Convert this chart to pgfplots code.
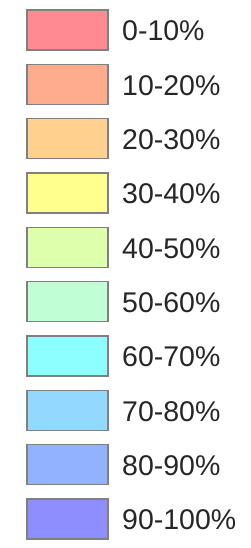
\documentclass[border=0pt]{standalone}
\usepackage{pgfplots}
\pgfplotsset{compat=1.18}
\usepackage{fontspec}
\setmainfont{Liberation Sans}
\definecolor{c0}{RGB}{255,138,146}
\definecolor{c1}{RGB}{255,172,142}
\definecolor{c2}{RGB}{255,208,142}
\definecolor{c3}{RGB}{255,255,142}
\definecolor{c4}{RGB}{222,255,172}
\definecolor{c5}{RGB}{192,255,214}
\definecolor{c6}{RGB}{142,255,255}
\definecolor{c7}{RGB}{146,216,255}
\definecolor{c8}{RGB}{146,178,255}
\definecolor{c9}{RGB}{142,142,255}
\definecolor{edge}{RGB}{128,128,128}
\begin{document}
\begin{tikzpicture}
\begin{axis}[
  scale only axis, width=251pt, height=548pt,
  xmin=0, xmax=251, ymin=0, ymax=548, y dir=reverse,
  hide axis, clip=false,
  every axis plot/.append style={draw=edge, line width=1.3pt},
]
% boxes: x from 27 to 108, top y, height 40
\addplot[fill=c0] coordinates {(27,10.0) (108,10.0) (108,50.0) (27,50.0)} -- cycle;
\addplot[fill=c1] coordinates {(27,64.4) (108,64.4) (108,104.4) (27,104.4)} -- cycle;
\addplot[fill=c2] coordinates {(27,118.7) (108,118.7) (108,158.7) (27,158.7)} -- cycle;
\addplot[fill=c3] coordinates {(27,173.0) (108,173.0) (108,213.0) (27,213.0)} -- cycle;
\addplot[fill=c4] coordinates {(27,227.4) (108,227.4) (108,267.4) (27,267.4)} -- cycle;
\addplot[fill=c5] coordinates {(27,281.7) (108,281.7) (108,321.7) (27,321.7)} -- cycle;
\addplot[fill=c6] coordinates {(27,336.0) (108,336.0) (108,376.0) (27,376.0)} -- cycle;
\addplot[fill=c7] coordinates {(27,390.4) (108,390.4) (108,430.4) (27,430.4)} -- cycle;
\addplot[fill=c8] coordinates {(27,444.7) (108,444.7) (108,484.7) (27,484.7)} -- cycle;
\addplot[fill=c9] coordinates {(27,499.0) (108,499.0) (108,539.0) (27,539.0)} -- cycle;
\begin{scope}[every node/.style={anchor=base west, inner sep=0pt, font=\fontsize{28.5}{30}\selectfont, text=black!85}]
\node at (axis cs:122,40.7) {0-10\%};
\node at (axis cs:122,95.1) {10-20\%};
\node at (axis cs:122,149.4) {20-30\%};
\node at (axis cs:122,203.7) {30-40\%};
\node at (axis cs:122,258.1) {40-50\%};
\node at (axis cs:122,312.4) {50-60\%};
\node at (axis cs:122,366.7) {60-70\%};
\node at (axis cs:122,421.1) {70-80\%};
\node at (axis cs:122,475.4) {80-90\%};
\node at (axis cs:122,529.7) {90-100\%};
\end{scope}
\end{axis}
\path[use as bounding box] (current axis.south west) rectangle (current axis.north east);
\end{tikzpicture}
\end{document}
